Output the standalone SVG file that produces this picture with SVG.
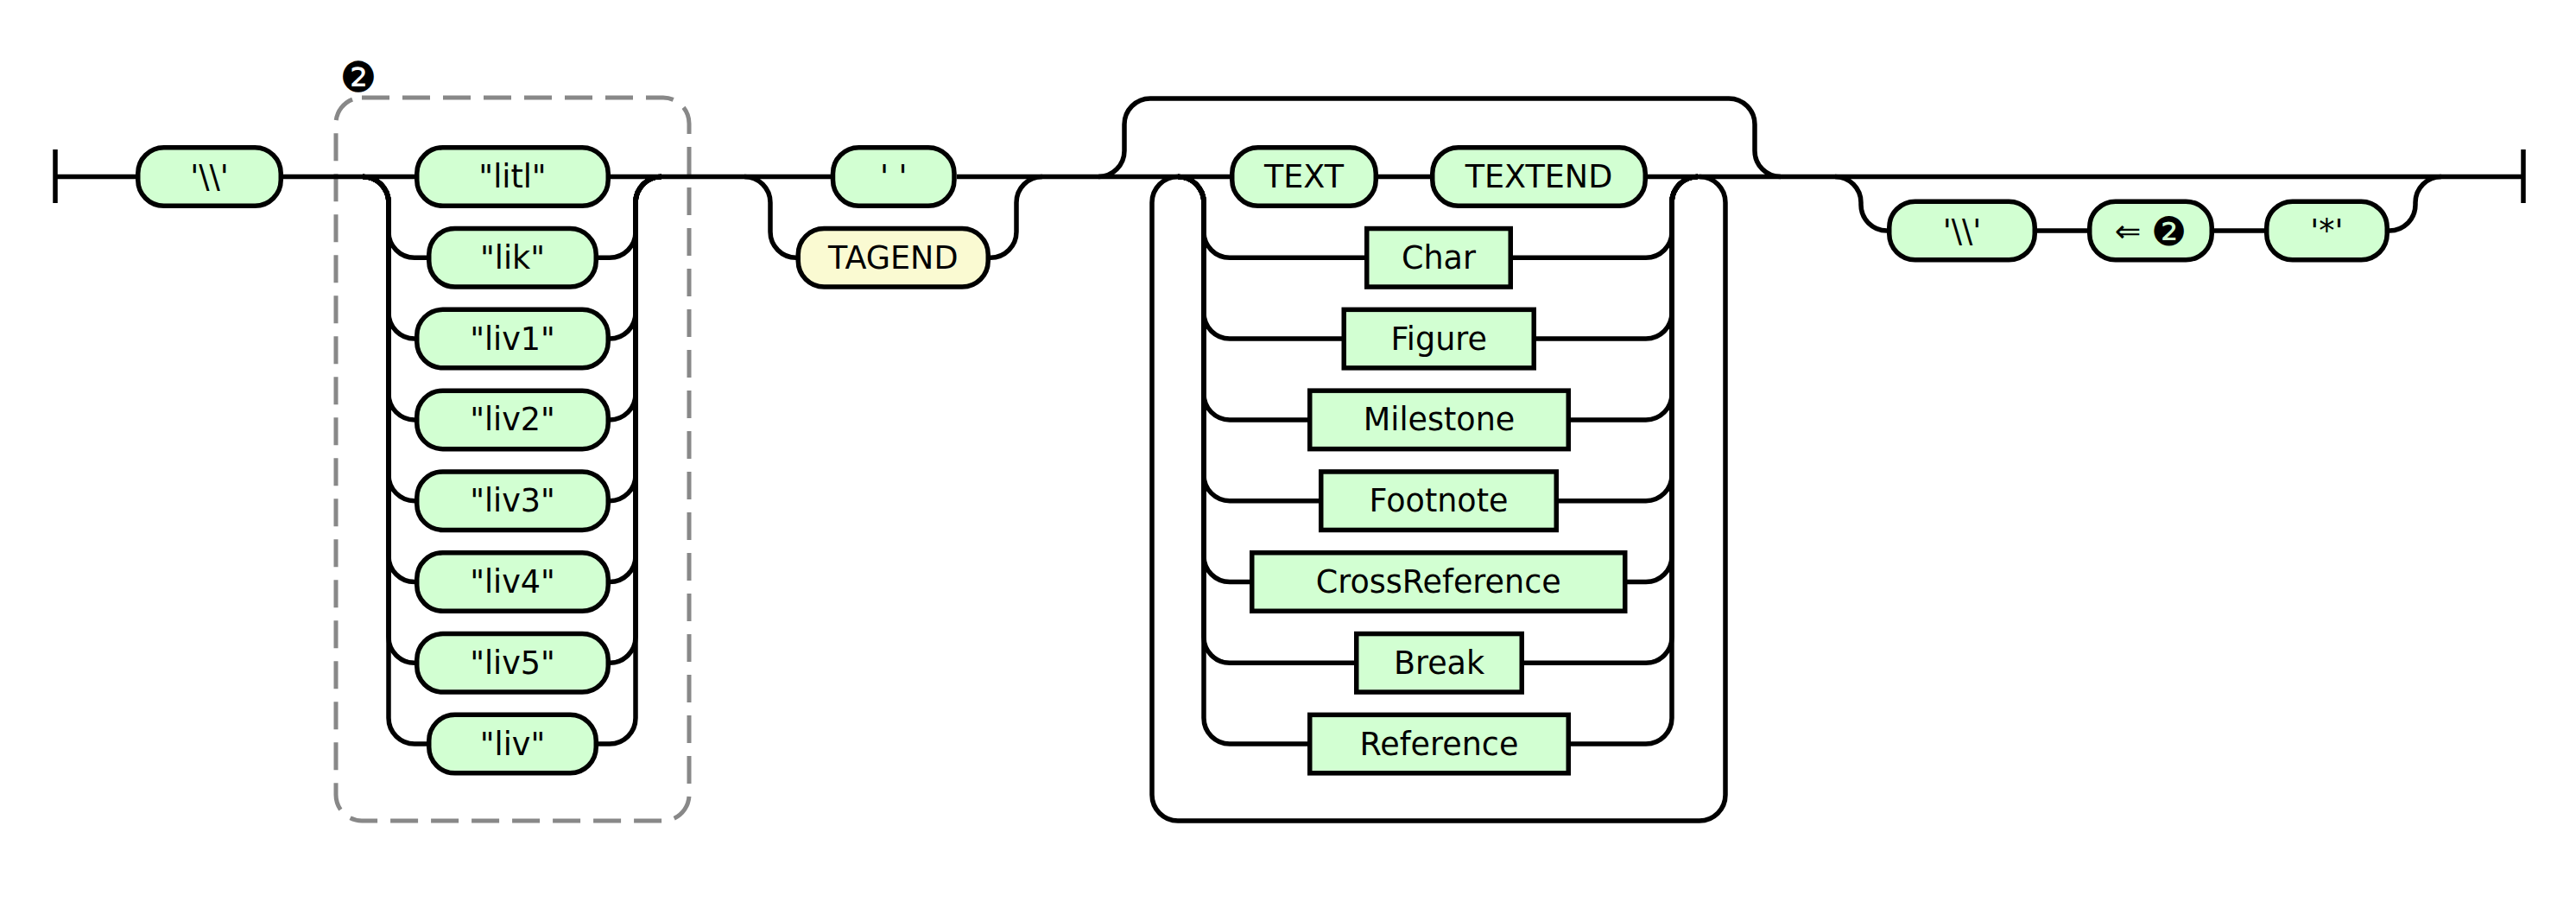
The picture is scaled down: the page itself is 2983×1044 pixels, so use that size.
<svg xmlns="http://www.w3.org/2000/svg" width="2983" height="1044" viewBox="0 0 2983 1044">
<style>
.ln{fill:none;stroke:#000;stroke-width:5.5}
.t{fill:#d2ffd2;stroke:#000;stroke-width:5.5}
.y{fill:#fafad2;stroke:#000;stroke-width:5.5}
.n{fill:#d2ffd2;stroke:#000;stroke-width:5.5}
.lb{font-family:"DejaVu Sans",sans-serif;font-size:36.5px;text-anchor:middle;fill:#000}
.grp{fill:none;stroke:#888;stroke-width:5;stroke-dasharray:32 15}
</style>
<rect width="2983" height="1044" fill="#fff"/>
<g id="group2">
<rect class="grp" x="389" y="113" width="409" height="837" rx="30"/>
<text class="lb" x="415" y="105.5" style="font-size:48px">❷</text>
</g>
<g id="connectors">
<path class="ln" d="M64,173V235M2922,173V235"/>
<path class="ln" d="M64,204.5H157M328,204.5H480M707,204.5H962M1108,204.5H1424M1596,204.5H1656M1908,204.5H2922"/>
<path class="ln" d="M420,204.5a30,30 0 0 1 30,30V268.3a30,30 0 0 0 30,30H494"/>
<path class="ln" d="M420,204.5a30,30 0 0 1 30,30V362.1a30,30 0 0 0 30,30"/>
<path class="ln" d="M420,204.5a30,30 0 0 1 30,30V455.9a30,30 0 0 0 30,30"/>
<path class="ln" d="M420,204.5a30,30 0 0 1 30,30V549.7a30,30 0 0 0 30,30"/>
<path class="ln" d="M420,204.5a30,30 0 0 1 30,30V643.5a30,30 0 0 0 30,30"/>
<path class="ln" d="M420,204.5a30,30 0 0 1 30,30V737.3a30,30 0 0 0 30,30"/>
<path class="ln" d="M420,204.5a30,30 0 0 1 30,30V831.1a30,30 0 0 0 30,30H494"/>
<path class="ln" d="M693,298.3H706a30,30 0 0 0 30,-30V234.5a30,30 0 0 1 30,-30"/>
<path class="ln" d="M706,392.1a30,30 0 0 0 30,-30V234.5a30,30 0 0 1 30,-30"/>
<path class="ln" d="M706,485.9a30,30 0 0 0 30,-30V234.5a30,30 0 0 1 30,-30"/>
<path class="ln" d="M706,579.7a30,30 0 0 0 30,-30V234.5a30,30 0 0 1 30,-30"/>
<path class="ln" d="M706,673.5a30,30 0 0 0 30,-30V234.5a30,30 0 0 1 30,-30"/>
<path class="ln" d="M706,767.3a30,30 0 0 0 30,-30V234.5a30,30 0 0 1 30,-30"/>
<path class="ln" d="M693,861.1H706a30,30 0 0 0 30,-30V234.5a30,30 0 0 1 30,-30"/>
<path class="ln" d="M862,204.5a30,30 0 0 1 30,30V268.3a30,30 0 0 0 30,30"/>
<path class="ln" d="M1147,298.3a30,30 0 0 0 30,-30V234.5a30,30 0 0 1 30,-30"/>
<path class="ln" d="M1272,204.5a30,30 0 0 0 30,-30V144a30,30 0 0 1 30,-30H2002a30,30 0 0 1 30,30V174.5a30,30 0 0 0 30,30"/>
<path class="ln" d="M1968,204.5a30,30 0 0 1 30,30V920a30,30 0 0 1 -30,30H1364a30,30 0 0 1 -30,-30V234.5a30,30 0 0 1 30,-30"/>
<path class="ln" d="M1364,204.5a30,30 0 0 1 30,30V268.3a30,30 0 0 0 30,30H1580"/>
<path class="ln" d="M1364,204.5a30,30 0 0 1 30,30V362.1a30,30 0 0 0 30,30H1554"/>
<path class="ln" d="M1364,204.5a30,30 0 0 1 30,30V455.9a30,30 0 0 0 30,30H1514"/>
<path class="ln" d="M1364,204.5a30,30 0 0 1 30,30V549.7a30,30 0 0 0 30,30H1527"/>
<path class="ln" d="M1364,204.5a30,30 0 0 1 30,30V643.5a30,30 0 0 0 30,30H1447"/>
<path class="ln" d="M1364,204.5a30,30 0 0 1 30,30V737.3a30,30 0 0 0 30,30H1568"/>
<path class="ln" d="M1364,204.5a30,30 0 0 1 30,30V831.1a30,30 0 0 0 30,30H1514"/>
<path class="ln" d="M1752,298.3H1906a30,30 0 0 0 30,-30V234.5a30,30 0 0 1 30,-30"/>
<path class="ln" d="M1779,392.1H1906a30,30 0 0 0 30,-30V234.5a30,30 0 0 1 30,-30"/>
<path class="ln" d="M1819,485.9H1906a30,30 0 0 0 30,-30V234.5a30,30 0 0 1 30,-30"/>
<path class="ln" d="M1805,579.7H1906a30,30 0 0 0 30,-30V234.5a30,30 0 0 1 30,-30"/>
<path class="ln" d="M1884,673.5H1906a30,30 0 0 0 30,-30V234.5a30,30 0 0 1 30,-30"/>
<path class="ln" d="M1765,767.3H1906a30,30 0 0 0 30,-30V234.5a30,30 0 0 1 30,-30"/>
<path class="ln" d="M1819,861.1H1906a30,30 0 0 0 30,-30V234.5a30,30 0 0 1 30,-30"/>
<path class="ln" d="M2125,204.5a30,30 0 0 1 30,30V237a30,30 0 0 0 30,30"/>
<path class="ln" d="M2359,267H2417M2564,267H2622"/>
<path class="ln" d="M2767,267a30,30 0 0 0 30,-30V234.5a30,30 0 0 1 30,-30"/>
</g>
<g id="n-bs1"><rect class="t" x="159.75" y="170.75" width="165.5" height="67.5" rx="30"/><text class="lb" x="242.5" y="217">'\\'</text></g>
<g id="n-litl"><rect class="t" x="482.75" y="170.75" width="221.5" height="67.5" rx="30"/><text class="lb" x="593.5" y="217">"litl"</text></g>
<g id="n-lik"><rect class="t" x="496.75" y="264.55" width="193.5" height="67.5" rx="30"/><text class="lb" x="593.5" y="310.8">"lik"</text></g>
<g id="n-liv1"><rect class="t" x="482.75" y="358.35" width="221.5" height="67.5" rx="30"/><text class="lb" x="593.5" y="404.6">"liv1"</text></g>
<g id="n-liv2"><rect class="t" x="482.75" y="452.15" width="221.5" height="67.5" rx="30"/><text class="lb" x="593.5" y="498.4">"liv2"</text></g>
<g id="n-liv3"><rect class="t" x="482.75" y="545.95" width="221.5" height="67.5" rx="30"/><text class="lb" x="593.5" y="592.2">"liv3"</text></g>
<g id="n-liv4"><rect class="t" x="482.75" y="639.75" width="221.5" height="67.5" rx="30"/><text class="lb" x="593.5" y="686">"liv4"</text></g>
<g id="n-liv5"><rect class="t" x="482.75" y="733.55" width="221.5" height="67.5" rx="30"/><text class="lb" x="593.5" y="779.8">"liv5"</text></g>
<g id="n-liv"><rect class="t" x="496.75" y="827.35" width="193.5" height="67.5" rx="30"/><text class="lb" x="593.5" y="873.6">"liv"</text></g>
<g id="n-space"><rect class="t" x="964.5" y="170.75" width="140.5" height="67.5" rx="30"/><text class="lb" x="1034.75" y="217">' '</text></g>
<g id="n-tagend"><rect class="y" x="924.25" y="264.55" width="220" height="67.5" rx="30"/><text class="lb" x="1034.25" y="310.8">TAGEND</text></g>
<g id="n-text"><rect class="t" x="1426.75" y="170.75" width="166.5" height="67.5" rx="30"/><text class="lb" x="1510" y="217">TEXT</text></g>
<g id="n-textend"><rect class="t" x="1658.75" y="170.75" width="246.5" height="67.5" rx="30"/><text class="lb" x="1782" y="217">TEXTEND</text></g>
<g id="n-char"><rect class="n" x="1582.75" y="264.55" width="166.5" height="67.5"/><text class="lb" x="1666" y="310.8">Char</text></g>
<g id="n-figure"><rect class="n" x="1556.25" y="358.35" width="220" height="67.5"/><text class="lb" x="1666.25" y="404.6">Figure</text></g>
<g id="n-milestone"><rect class="n" x="1516.75" y="452.15" width="299.5" height="67.5"/><text class="lb" x="1666.5" y="498.4">Milestone</text></g>
<g id="n-footnote"><rect class="n" x="1529.75" y="545.95" width="272.5" height="67.5"/><text class="lb" x="1666" y="592.2">Footnote</text></g>
<g id="n-crossref"><rect class="n" x="1449.75" y="639.75" width="432" height="67.5"/><text class="lb" x="1665.75" y="686">CrossReference</text></g>
<g id="n-break"><rect class="n" x="1570.75" y="733.55" width="191.5" height="67.5"/><text class="lb" x="1666.5" y="779.8">Break</text></g>
<g id="n-reference"><rect class="n" x="1516.75" y="827.35" width="299.5" height="67.5"/><text class="lb" x="1666.5" y="873.6">Reference</text></g>
<g id="n-bs2"><rect class="t" x="2187.75" y="233.25" width="168.5" height="67.5" rx="30"/><text class="lb" x="2272" y="279.5">'\\'</text></g>
<g id="n-backref"><rect class="t" x="2419.75" y="233.25" width="141.5" height="67.5" rx="30"/><text class="lb" x="2490.5" y="279.5">⇐ <tspan style="font-size:46px" dy="4">❷</tspan></text></g>
<g id="n-star"><rect class="t" x="2624.75" y="233.25" width="139.5" height="67.5" rx="30"/><text class="lb" x="2694.5" y="279.5">'*'</text></g>
</svg>
